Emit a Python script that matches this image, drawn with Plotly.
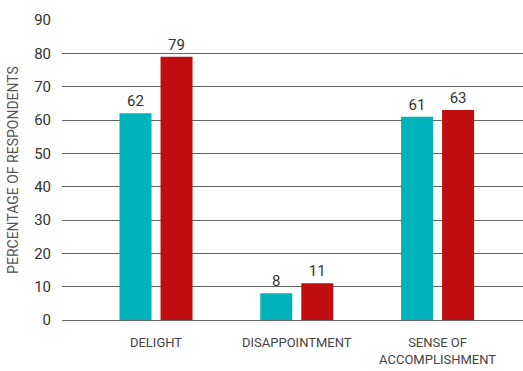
import plotly.graph_objects as go

categories = ["DELIGHT", "DISAPPOINTMENT", "SENSE OF<br>ACCOMPLISHMENT"]
series_a = [62, 8, 61]
series_b = [79, 11, 63]
y_ticks = [0, 10, 20, 30, 40, 50, 60, 70, 80, 90]

FONT = "Roboto, Arial"
teal = "#00B3BA"
red = "#C00E10"

fig = go.Figure()
for vals, col in [(series_a, teal), (series_b, red)]:
    fig.add_trace(go.Bar(
        x=categories, y=vals, marker=dict(color=col, line=dict(width=0)),
        text=[str(v) for v in vals], textposition="outside",
        textfont=dict(family=FONT, size=15, color="#333333"),
        cliponaxis=False, showlegend=False,
    ))

fig.update_layout(
    width=523, height=371,
    margin=dict(l=62, r=0, t=20, b=51),
    paper_bgcolor="white", plot_bgcolor="white",
    barmode="group", bargap=0.417, bargroupgap=0.22,
    font=dict(family=FONT, color="#333333"),
)
fig.update_xaxes(
    range=[-0.668, 2.607], showgrid=False, showline=False, zeroline=False,
    tickfont=dict(family=FONT, size=13, color="#444444"), ticks="",
    ticklabelstandoff=13,
)
fig.update_yaxes(
    range=[0, 90], tickvals=y_ticks, showgrid=True, gridcolor="#666666",
    gridwidth=1, zeroline=True, zerolinecolor="#666666", zerolinewidth=1,
    showline=False, ticks="", ticklabelstandoff=10,
    tickfont=dict(family=FONT, size=15, color="#333333"),
    title=dict(text="PERCENTAGE OF RESPONDENTS", standoff=12,
               font=dict(family=FONT, size=14, color="#555555")),
)

fig.write_html("out.html")
